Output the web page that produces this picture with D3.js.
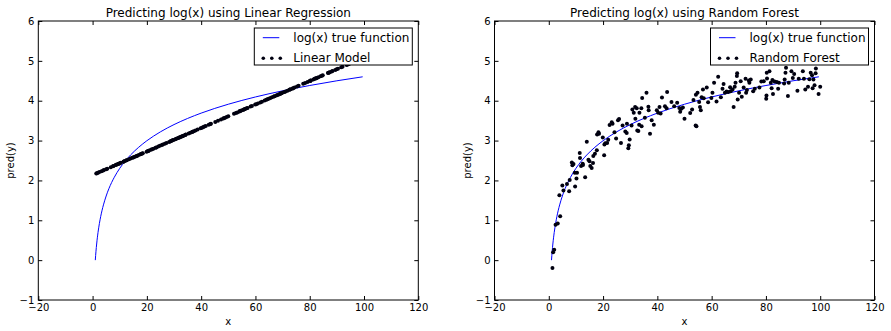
<!DOCTYPE html>
<html><head><meta charset="utf-8">
<script src="https://cdn.jsdelivr.net/npm/d3@7"></script>
<style>
body{margin:0;background:#fff;}
svg{font-family:"DejaVu Sans",sans-serif;}
</style></head>
<body><svg id="c" width="891" height="331"></svg>
<script>
// x positions of the test samples
const xs = [1.35,1.6,2.0,2.5,3.3,3.9,4.2,5.0,5.4,6.7,7.5,7.7,8.5,8.7,9.1,9.6,9.7,10.2,10.4,11.4,11.5,11.9,12.5,12.6,13.4,14.0,14.6,15.0,15.3,15.8,16.3,16.4,17.0,17.7,17.8,18.3,18.5,19.9,20.4,20.5,20.8,21.5,21.9,22.4,23.2,23.5,24.2,24.8,25.5,25.9,26.6,27.2,28.2,28.7,28.8,29.3,29.5,29.8,30.5,30.8,31.3,31.8,31.9,32.4,32.6,33.0,33.3,33.4,34.1,34.2,34.4,35.4,36.0,36.7,36.8,37.3,37.9,38.7,39.8,40.3,40.8,41.2,41.7,42.8,43.4,43.6,45.2,46.2,47.3,48.1,48.4,48.8,49.4,50.0,52.1,52.8,53.3,54.1,54.2,54.4,54.8,55.4,55.7,56.0,56.3,56.8,57.1,58.2,58.7,59.9,60.3,60.9,61.8,62.4,63.4,64.0,64.4,64.9,65.5,66.1,66.8,67.0,67.7,68.1,68.5,68.8,69.3,69.4,69.6,70.1,70.7,71.1,71.8,72.5,72.7,73.0,73.7,73.9,74.4,75.3,75.9,77.6,78.3,79.2,80.1,80.2,80.3,80.4,81.3,81.8,82.1,82.4,82.6,83.2,84.0,84.5,84.8,86.7,86.9,87.2,87.4,88.1,88.4,89.4,89.9,90.4,91.6,92.1,93.6,94.0,94.5,95.5,96.0,96.5,97.0,97.2,97.5,97.9,98.3,98.4,99.4,100.0];
// Linear model predictions
const linPred = [2.175,2.182,2.194,2.209,2.232,2.250,2.259,2.283,2.294,2.333,2.356,2.362,2.386,2.392,2.403,2.418,2.421,2.436,2.442,2.471,2.474,2.486,2.504,2.507,2.530,2.548,2.566,2.578,2.586,2.601,2.616,2.619,2.637,2.657,2.660,2.675,2.681,2.722,2.737,2.740,2.749,2.769,2.781,2.796,2.819,2.828,2.849,2.867,2.887,2.899,2.920,2.937,2.967,2.982,2.985,2.999,3.005,3.014,3.035,3.044,3.058,3.073,3.076,3.091,3.097,3.109,3.117,3.120,3.141,3.144,3.150,3.179,3.197,3.218,3.221,3.235,3.253,3.277,3.309,3.324,3.339,3.350,3.365,3.398,3.415,3.421,3.468,3.498,3.530,3.554,3.563,3.575,3.592,3.610,3.672,3.693,3.707,3.731,3.734,3.740,3.752,3.769,3.778,3.787,3.796,3.811,3.819,3.852,3.867,3.902,3.914,3.932,3.958,3.976,4.005,4.023,4.035,4.050,4.067,4.085,4.106,4.112,4.132,4.144,4.156,4.165,4.179,4.182,4.188,4.203,4.221,4.232,4.253,4.274,4.280,4.289,4.309,4.315,4.330,4.356,4.374,4.424,4.445,4.471,4.498,4.501,4.504,4.507,4.533,4.548,4.557,4.566,4.572,4.589,4.613,4.628,4.637,4.693,4.699,4.707,4.713,4.734,4.743,4.772,4.787,4.802,4.837,4.852,4.896,4.908,4.923,4.952,4.967,4.982,4.997,5.002,5.011,5.023,5.035,5.038,5.067,5.085];
// Random forest predictions
const rfPred = [-0.20,0.20,0.26,0.89,0.92,1.63,1.10,1.87,1.75,1.91,1.73,2.01,2.45,2.38,2.41,2.19,1.85,2.05,2.19,2.69,2.56,2.36,2.42,2.39,2.08,2.97,2.52,2.48,2.36,2.31,2.44,2.61,2.67,2.76,3.15,3.21,3.17,3.08,2.63,2.90,2.93,2.94,3.02,3.39,3.46,3.42,3.21,3.05,3.51,3.54,2.94,3.38,3.23,3.19,3.42,2.81,2.88,3.03,3.38,3.78,3.70,3.84,3.55,3.81,3.25,3.24,3.40,3.70,3.81,3.36,4.07,3.57,4.20,3.85,3.76,3.17,3.51,3.40,3.76,3.70,3.84,3.68,4.08,3.86,3.81,4.22,3.97,3.86,3.95,3.82,3.72,3.80,3.83,3.55,3.69,3.78,4.02,3.38,4.15,3.36,4.20,3.97,3.84,3.76,4.09,4.28,4.06,4.33,3.96,4.07,4.20,4.45,3.98,4.60,4.09,4.30,4.42,4.20,4.23,4.22,4.34,4.24,4.28,3.84,4.35,4.45,4.62,4.69,4.03,4.20,4.49,4.10,4.33,4.55,4.20,4.27,4.51,4.45,4.53,4.24,4.30,4.33,4.48,4.49,4.05,4.13,4.70,4.56,4.74,4.45,4.31,4.52,4.17,4.48,4.47,4.30,4.45,4.43,4.53,4.70,4.83,4.12,4.45,4.74,4.57,4.67,4.25,4.55,4.74,4.55,4.28,4.35,4.54,4.70,4.64,4.31,4.53,4.39,4.69,4.81,4.17,4.35];
// true function log(x) samples
const trueX = [1,1.25,1.5,1.75,2,2.5,3,3.5,4,5,6,7,8,10,12,14,17,20,25,30,35,40,50,60,70,80,90,99.5];
const trueY = [0,0.223,0.405,0.560,0.693,0.916,1.099,1.253,1.386,1.609,1.792,1.946,2.079,2.303,2.485,2.639,2.833,2.996,3.219,3.401,3.555,3.689,3.912,4.094,4.248,4.382,4.500,4.600];
const xTicks = [-20,0,20,40,60,80,100,120];
const yTicks = [-1,0,1,2,3,4,5,6];
const titles = ["Predicting log(x) using Linear Regression","Predicting log(x) using Random Forest"];
const legendLabels = [["log(x) true function","Linear Model"],["log(x) true function","Random Forest"]];

const svg = d3.select("#c");
const panels = [
  {x0:38.3, x1:418.3, preds: linPred},
  {x0:494.5, x1:874.5, preds: rfPred}
];
const yTop = 21, yBottom = 300;
const fmt = d => (d<0 ? "\u2212" + Math.abs(d) : String(d));

panels.forEach((p, i) => {
  const x = d3.scaleLinear().domain([-20,120]).range([p.x0, p.x1]);
  const y = d3.scaleLinear().domain([-1,6]).range([yBottom, yTop]);
  const g = svg.append("g");

  const cid = "clip"+i;
  svg.append("clipPath").attr("id", cid).append("rect")
    .attr("x", p.x0).attr("y", yTop).attr("width", p.x1-p.x0).attr("height", yBottom-yTop);

  const plot = g.append("g").attr("clip-path", `url(#${cid})`);
  const line = d3.line().x(d=>x(d[0])).y(d=>y(d[1])).curve(d3.curveMonotoneX);
  plot.append("path").datum(trueX.map((v,k)=>[v,trueY[k]]))
    .attr("d", line).attr("fill","none").attr("stroke","#0000ff").attr("stroke-width",1);
  plot.selectAll("circle").data(xs.map((v,k)=>[v,p.preds[k]])).join("circle")
    .attr("cx", d=>x(d[0])).attr("cy", d=>y(d[1])).attr("r", 2).attr("fill","#000010");

  const ax = (gen, tr, labels) => {
    const a = g.append("g").attr("transform", tr).call(gen);
    a.select(".domain").remove();
    a.selectAll("line").attr("stroke","#000");
    a.selectAll("text").attr("font-size", 10).attr("fill","#000").attr("font-family","DejaVu Sans");
    if(!labels) a.selectAll("text").remove();
  };
  ax(d3.axisBottom(x).tickValues(xTicks).tickFormat(fmt).tickSizeInner(-4).tickSizeOuter(0).tickPadding(4), `translate(0,${yBottom})`, true);
  ax(d3.axisTop(x).tickValues(xTicks).tickSizeInner(-4).tickSizeOuter(0), `translate(0,${yTop})`, false);
  ax(d3.axisLeft(y).tickValues(yTicks).tickFormat(fmt).tickSizeInner(-4).tickSizeOuter(0).tickPadding(4), `translate(${p.x0},0)`, true);
  ax(d3.axisRight(y).tickValues(yTicks).tickSizeInner(-4).tickSizeOuter(0), `translate(${p.x1},0)`, false);

  g.append("rect").attr("x", p.x0).attr("y", yTop).attr("width", p.x1-p.x0).attr("height", yBottom-yTop)
    .attr("fill","none").attr("stroke","#000").attr("stroke-width",1);

  g.append("text").attr("x", (p.x0+p.x1)/2).attr("y", 17).attr("text-anchor","middle")
    .attr("font-size", 12).text(titles[i]);
  g.append("text").attr("x", (p.x0+p.x1)/2).attr("y", 325).attr("text-anchor","middle")
    .attr("font-size", 10).text("x");
  g.append("text").attr("transform", `translate(${p.x0-24},${(yTop+yBottom)/2}) rotate(-90)`)
    .attr("text-anchor","middle").attr("font-size", 10).text("pred(y)");

  const lx = p.x1 - 164, ly = 28, lw = 158, lh = 37;
  const lg = g.append("g");
  lg.append("rect").attr("x", lx).attr("y", ly).attr("width", lw).attr("height", lh)
    .attr("fill","#fff").attr("stroke","#000").attr("stroke-width",1);
  lg.append("line").attr("x1", lx+8.5).attr("x2", lx+25).attr("y1", ly+9.7).attr("y2", ly+9.7)
    .attr("stroke","#0000ff").attr("stroke-width",1);
  [9, 17.5, 26].forEach(dx => lg.append("circle").attr("cx", lx+dx).attr("cy", ly+30.3).attr("r",1.8).attr("fill","#000010"));
  lg.append("text").attr("x", lx+39).attr("y", ly+14).attr("font-size", 12).text(legendLabels[i][0]);
  lg.append("text").attr("x", lx+39).attr("y", ly+33.5).attr("font-size", 12).text(legendLabels[i][1]);
});
</script></body></html>
